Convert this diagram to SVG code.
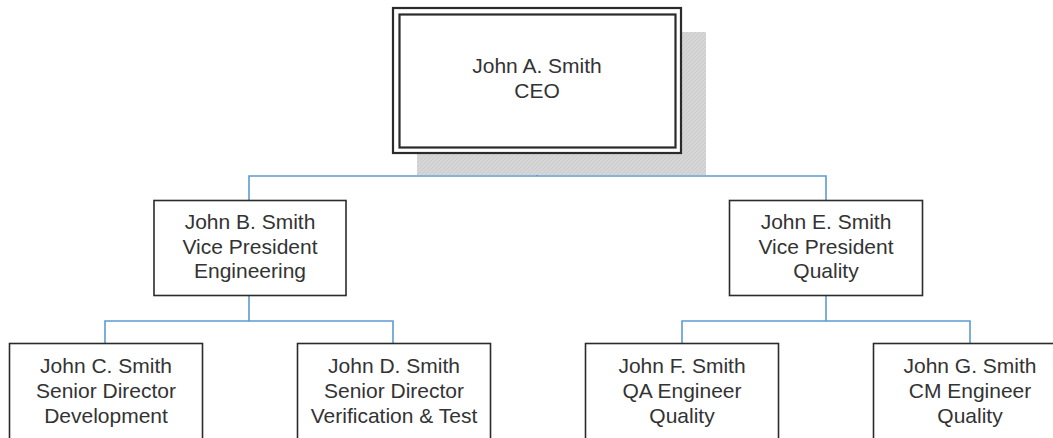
<svg xmlns="http://www.w3.org/2000/svg" width="1053" height="438" viewBox="0 0 1053 438">
<defs>
<style>
.box{fill:#ffffff;stroke:#2b2b2b;stroke-width:1.6}
.frame{fill:none;stroke:#2b2b2b;stroke-width:2.2}
.conn{fill:none;stroke:#5b9bd5;stroke-width:1.6}
text{font-family:"Liberation Sans",Arial,sans-serif;font-size:21px;fill:#333333;text-anchor:middle}
</style>
<pattern id="hatch" width="4" height="4" patternUnits="userSpaceOnUse">
<rect width="4" height="4" fill="#d6d6d6"/>
<path d="M0,4 L4,0" stroke="#c8c8c8" stroke-width="0.8"/>
</pattern>
</defs>
<rect width="1053" height="438" fill="#ffffff"/>
<g id="connectors">
<path class="conn" d="M537,153 V176 M249,200 V176 H826 V200"/>
<path class="conn" d="M249,295 V321 M105,343 V321 H393 V343"/>
<path class="conn" d="M826,295 V321 M682,343 V321 H970 V343"/>
</g>
<g id="ceo">
<rect x="417" y="32" width="289" height="143" fill="url(#hatch)"/>
<rect x="393" y="8" width="288" height="145" class="box"/>
<rect x="393" y="8" width="288" height="145" class="frame"/>
<rect x="399.5" y="14.5" width="276" height="133" class="frame"/>
<text x="537" y="73">John A. Smith</text>
<text x="537" y="98">CEO</text>
</g>
<g id="vp-eng">
<rect x="154" y="200.5" width="192" height="95" class="box"/>
<text x="250" y="229">John B. Smith</text>
<text x="250" y="254">Vice President</text>
<text x="250" y="278">Engineering</text>
</g>
<g id="vp-quality">
<rect x="729.5" y="200.5" width="193" height="95" class="box"/>
<text x="826" y="229">John E. Smith</text>
<text x="826" y="254">Vice President</text>
<text x="826" y="278">Quality</text>
</g>
<g id="sd-dev">
<rect x="9.5" y="343.5" width="193" height="110" class="box"/>
<text x="106" y="373">John C. Smith</text>
<text x="106" y="398">Senior Director</text>
<text x="106" y="423">Development</text>
</g>
<g id="sd-vt">
<rect x="297.5" y="343.5" width="193" height="110" class="box"/>
<text x="394" y="373">John D. Smith</text>
<text x="394" y="398">Senior Director</text>
<text x="394" y="423">Verification &amp; Test</text>
</g>
<g id="qa-eng">
<rect x="585.5" y="343.5" width="193" height="110" class="box"/>
<text x="682" y="373">John F. Smith</text>
<text x="682" y="398">QA Engineer</text>
<text x="682" y="423">Quality</text>
</g>
<g id="cm-eng">
<rect x="873.5" y="343.5" width="193" height="110" class="box"/>
<text x="970" y="373">John G. Smith</text>
<text x="970" y="398">CM Engineer</text>
<text x="970" y="423">Quality</text>
</g>
</svg>
